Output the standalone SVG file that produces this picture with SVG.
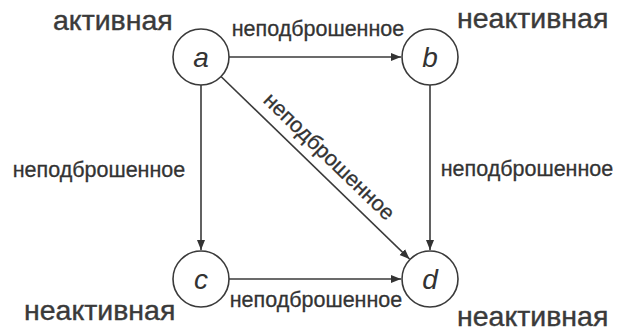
<svg xmlns="http://www.w3.org/2000/svg" width="617" height="332" viewBox="0 0 617 332">
<style>
.node circle{fill:#fff;stroke:#3a3a3a;stroke-width:1.6}
.nl{font-family:"Liberation Sans",Arial,sans-serif;font-style:italic;font-size:28px;fill:#333;text-anchor:middle}
.st{font-family:"Liberation Sans",Arial,sans-serif;font-size:28.5px;fill:#3a3a3a;stroke:#3a3a3a;stroke-width:0.4}
.el{font-family:"Liberation Sans",Arial,sans-serif;font-size:21.5px;fill:#333;stroke:#333;stroke-width:0.3;text-anchor:middle}
.edge{stroke:#3a3a3a;stroke-width:1.6;fill:none;marker-end:url(#arr)}
</style>
<defs>
<marker id="arr" markerUnits="userSpaceOnUse" markerWidth="12" markerHeight="10" refX="10" refY="5" orient="auto">
<path d="M0,1 L10,5 L0,9 Z" fill="#333"/>
</marker>
</defs>
<rect width="617" height="332" fill="#fff"/>
<g id="connectors">
<line class="edge" x1="229" y1="57" x2="401" y2="57"/>
<line class="edge" x1="201" y1="85" x2="201" y2="250"/>
<line class="edge" x1="430" y1="85" x2="430" y2="250"/>
<line class="edge" x1="229" y1="279" x2="401" y2="279"/>
<line class="edge" x1="221" y1="76.5" x2="409.5" y2="259"/>
<text class="el" x="318" y="36">неподброшенное</text>
<text class="el" x="99" y="177">неподброшенное</text>
<text class="el" x="527" y="176">неподброшенное</text>
<text class="el" x="316" y="307">неподброшенное</text>
<text class="el" transform="translate(318,168) rotate(44)" x="0" y="-9">неподброшенное</text>
</g>
<g id="node-a" class="node">
<circle cx="201" cy="57" r="28"/>
<text class="nl" x="201" y="67">a</text>
<text class="st" x="53" y="30">активная</text>
</g>
<g id="node-b" class="node">
<circle cx="430" cy="57" r="28"/>
<text class="nl" x="430" y="67">b</text>
<text class="st" x="457" y="28">неактивная</text>
</g>
<g id="node-c" class="node">
<circle cx="201" cy="279" r="28"/>
<text class="nl" x="201" y="289">c</text>
<text class="st" x="24" y="320">неактивная</text>
</g>
<g id="node-d" class="node">
<circle cx="430" cy="279" r="28"/>
<text class="nl" x="430" y="289">d</text>
<text class="st" x="457" y="326">неактивная</text>
</g>
</svg>
